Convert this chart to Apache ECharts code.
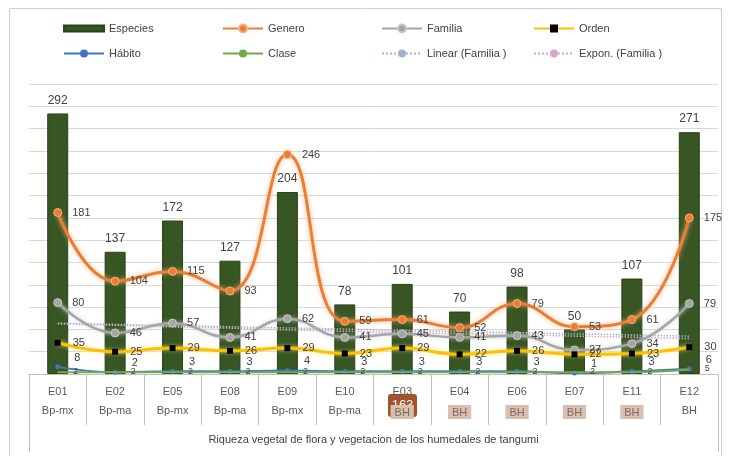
<!DOCTYPE html>
<html>
<head>
<meta charset="utf-8">
<script src="https://cdn.jsdelivr.net/npm/echarts@6/dist/echarts.min.js"></script>
<style>
html,body{margin:0;padding:0;background:#ffffff;}
#chart{width:730px;height:456px;}
</style>
</head>
<body>
<div id="chart"></div>
<script>
// Sampling sites and their vegetation type
const categories = ['E01','E02','E05','E08','E09','E10','E03','E04','E06','E07','E11','E12'];
const vegTypes   = ['Bp-mx','Bp-ma','Bp-mx','Bp-ma','Bp-mx','Bp-ma','BH','BH','BH','BH','BH','BH'];
const markedTypes = [false,false,false,false,false,false,true,true,true,true,true,false];
const axisTitle = 'Riqueza vegetal de flora y vegetacion de los humedales de tangumi';

// Richness per taxonomic level
const especies = [292,137,172,127,204,78,101,70,98,50,107,271];
const genero   = [181,104,115,93,246,59,61,52,79,53,61,175];
const familia  = [80,46,57,41,62,41,45,41,43,27,34,79];
const orden    = [35,25,29,26,29,23,29,22,26,22,23,30];
const habito   = [8,2,3,3,4,3,3,3,3,1,3,6];
const clase    = [2,2,2,2,2,2,2,2,2,2,2,5];

// Value axis range
const yMin = 0, yMax = 325, yStep = 25;

// Page badge
const badgeText = '163';

// Trend lines fitted to the Familia series (least squares, x = 1..n)
function linearFit(ys){
  const n = ys.length; let sx=0, sy=0, sxx=0, sxy=0;
  ys.forEach((y,i)=>{const x=i+1; sx+=x; sy+=y; sxx+=x*x; sxy+=x*y;});
  const b = (n*sxy - sx*sy)/(n*sxx - sx*sx); const a = (sy - b*sx)/n;
  return ys.map((_,i)=>+(a + b*(i+1)).toFixed(2));
}
function expFit(ys){
  const lf = linearFit(ys.map(Math.log));
  return lf.map(v=>+Math.exp(v).toFixed(2));
}
const familiaLinear = linearFit(familia);
const familiaExpon  = expFit(familia);

// Layout
const G = {left:29, right:12, top:84, bottom:82};
const W = 730, H = 456;
const FONT = '"Liberation Sans", Arial, sans-serif';
const TXT = '#404040';

const chart = echarts.init(document.getElementById('chart'), null, {renderer:'canvas'});

const lbl = (pos, extra) => Object.assign({show:true, position:pos, color:TXT, fontSize:11, fontFamily:FONT}, extra||{});

const legendBase = {orient:'vertical', top:18, itemGap:14, itemWidth:40, itemHeight:10, selectedMode:false,
  textStyle:{color:TXT, fontSize:11, fontFamily:FONT}};

const option = {
  backgroundColor:'#ffffff',
  animation:false,
  legend:[
    Object.assign({left:58, data:[{name:'Especies', icon:'path://M0,0H40V6H0Z'},'Hábito']}, legendBase),
    Object.assign({left:217, data:['Genero','Clase']}, legendBase),
    Object.assign({left:376, data:['Familia','Linear (Familia )']}, legendBase),
    Object.assign({left:528, data:['Orden','Expon. (Familia )']}, legendBase)
  ],
  grid:{left:G.left, right:G.right, top:G.top, bottom:G.bottom, containLabel:false},
  xAxis:[
    {type:'category', data:categories, position:'bottom', boundaryGap:true,
     axisLine:{show:true, lineStyle:{color:'#BFBFBF', width:1}},
     axisTick:{show:true, interval:0, length:51, lineStyle:{color:'#BFBFBF'}},
     axisLabel:{interval:0, margin:12, color:'#595959', fontSize:11, fontFamily:FONT},
     splitLine:{show:false}, z:1},
    {type:'category', data:vegTypes, position:'bottom', boundaryGap:true,
     axisLine:{show:false}, axisTick:{show:false},
     axisLabel:{interval:0, margin:31, color:'#595959', fontSize:11, fontFamily:FONT,
       formatter:(v,i)=> markedTypes[i] ? '{m|'+v+'}' : v,
       rich:{m:{backgroundColor:'#D9BFB0', color:'#7F6A5E', padding:[2,4,1,4], fontSize:11, fontFamily:FONT}}}},
    {type:'category', data:[axisTitle], position:'bottom', boundaryGap:true,
     axisLine:{show:false},
     axisTick:{show:true, interval:0, length:78, lineStyle:{color:'#BFBFBF'}},
     axisLabel:{interval:0, margin:60, color:'#404040', fontSize:11, fontFamily:FONT}}
  ],
  yAxis:{type:'value', min:yMin, max:yMax, interval:yStep,
    axisLine:{show:false}, axisTick:{show:false}, axisLabel:{show:false},
    splitLine:{show:true, lineStyle:{color:'#D9D9D9', width:1}}},
  series:[
    {name:'Especies', type:'bar', data:especies, xAxisIndex:0, barWidth:21,
     itemStyle:{color:'#375623', borderColor:'#2A4318', borderWidth:1},
     label:lbl('top',{distance:7, fontSize:12}), z:2},
    {name:'Genero', type:'line', data:genero, xAxisIndex:0, smooth:0.45,
     symbol:'circle', symbolSize:8,
     lineStyle:{color:'#ED7D31', width:3, shadowColor:'rgba(244,177,131,0.9)', shadowBlur:5},
     itemStyle:{color:'#ED7D31', borderColor:'#F4B183', borderWidth:1},
     label:lbl('right',{distance:10}), z:5},
    {name:'Familia', type:'line', data:familia, xAxisIndex:0, smooth:0.45,
     symbol:'circle', symbolSize:8,
     lineStyle:{color:'#A5A5A5', width:2.5, shadowColor:'rgba(200,200,200,0.9)', shadowBlur:4},
     itemStyle:{color:'#A5A5A5', borderColor:'#C9C9C9', borderWidth:1},
     label:lbl('right',{distance:10}), z:4},
    {name:'Orden', type:'line', data:orden, xAxisIndex:0, smooth:0.45,
     symbol:'rect', symbolSize:6,
     lineStyle:{color:'#FFC000', width:3, shadowColor:'rgba(255,230,120,0.9)', shadowBlur:4},
     itemStyle:{color:'#000000'},
     label:lbl('right',{distance:12}), z:4},
    {name:'Hábito', type:'line', data:habito, xAxisIndex:0, smooth:0.45,
     symbol:'circle', symbolSize:5,
     lineStyle:{color:'#4472C4', width:2},
     itemStyle:{color:'#4472C4'},
     label:lbl('right',{distance:14, offset:[0,-9]}), z:4},
    {name:'Clase', type:'line', data:clase, xAxisIndex:0, smooth:0.45,
     symbol:'circle', symbolSize:1, showSymbol:true,
     lineStyle:{color:'#70AD47', width:2},
     itemStyle:{color:'#70AD47'},
     label:lbl('right',{distance:15, fontSize:9, offset:[0,-1]}), z:6},
    {name:'Linear (Familia )', type:'line', data:familiaLinear, xAxisIndex:0,
     symbol:'none', lineStyle:{color:'#9FB3D1', width:1.5, type:'dotted'},
     itemStyle:{color:'#9FB3D1'}, z:3},
    {name:'Expon. (Familia )', type:'line', data:familiaExpon, xAxisIndex:0,
     symbol:'none', lineStyle:{color:'#D2A8C8', width:1.5, type:'dotted'},
     itemStyle:{color:'#D2A8C8'}, z:3}
  ],
  graphic:[
    {type:'rect', silent:true, z:-10,
     shape:{x:9.5, y:8.5, width:W-18, height:H}, style:{fill:'none', stroke:'#D0D0D0', lineWidth:1}},
    {type:'group', left:388, top:394, z:100, children:[
      {type:'rect', shape:{x:0, y:0, width:29, height:23, r:3}, style:{fill:'#A3532B'}},
      {type:'text', x:14.5, y:11.5, style:{text:badgeText, fill:'#ffffff', font:'13px '+FONT, align:'center', verticalAlign:'middle'}}
    ]}
  ]
};

chart.setOption(option);
</script>
</body>
</html>
